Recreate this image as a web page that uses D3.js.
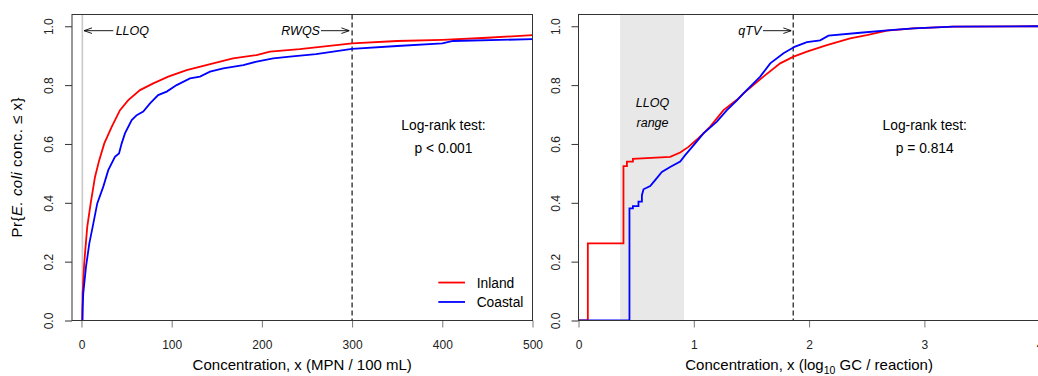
<!DOCTYPE html>
<html>
<head>
<meta charset="utf-8">
<script src="https://cdn.jsdelivr.net/npm/d3@7"></script>
<style>
  body { margin: 0; background: #fff; }
  svg { display: block; font-family: "Liberation Sans", Arial, Helvetica, sans-serif; }
</style>
</head>
<body>
<svg id="chart" width="1038" height="376"></svg>
<script>
// E. coli culture (MPN / 100 mL), ECDF points
const inlandCulture = [
  [1, 0], [1.3, 0.092], [2.8, 0.182], [3.9, 0.227], [6.4, 0.318], [10.2, 0.398],
  [15, 0.488], [19.7, 0.545], [25.3, 0.602], [33.5, 0.658], [42.7, 0.715],
  [51.9, 0.749], [64.9, 0.783], [79.6, 0.806], [96.2, 0.829], [116.6, 0.851],
  [146, 0.874], [168, 0.891], [194, 0.902], [209, 0.914], [242, 0.922],
  [300, 0.942], [350, 0.950], [400, 0.954], [450, 0.961], [500, 0.970]
];
const coastalCulture = [
  [1, 0], [1.3, 0.046], [2, 0.092], [5, 0.182], [8.7, 0.262], [12.4, 0.318],
  [17.5, 0.398], [24.2, 0.455], [29.7, 0.511], [37.1, 0.556], [41.6, 0.568],
  [44.6, 0.602], [48.2, 0.636], [55.7, 0.681], [61.2, 0.698], [68.5, 0.71],
  [76, 0.738], [85, 0.766], [94.5, 0.778], [105.5, 0.80], [120.3, 0.823],
  [131.4, 0.829], [142.5, 0.846], [157.2, 0.857], [179.4, 0.868], [194.2, 0.88],
  [212.6, 0.891], [231, 0.897], [260, 0.905], [300, 0.923], [350, 0.933],
  [400, 0.942], [412, 0.95], [500, 0.956]
];

// qPCR (log10 GC / reaction); repeated x values are the jumps
const inlandQpcr = [
  [0, 0], [0.081, 0], [0.081, 0.262], [0.39, 0.262], [0.39, 0.525], [0.42, 0.525],
  [0.42, 0.54], [0.472, 0.54], [0.472, 0.549], [0.795, 0.556], [0.882, 0.571],
  [0.954, 0.59], [1.027, 0.615], [1.142, 0.659], [1.258, 0.715], [1.374, 0.75],
  [1.431, 0.772], [1.604, 0.829], [1.749, 0.874], [1.865, 0.897], [1.981, 0.914],
  [2.154, 0.936], [2.356, 0.959], [2.501, 0.970], [2.675, 0.985], [2.906, 0.993],
  [3.25, 0.999], [4, 1.0]
];
const coastalQpcr = [
  [0, 0], [0.442, 0], [0.442, 0.381], [0.472, 0.381], [0.472, 0.389], [0.52, 0.389],
  [0.52, 0.404], [0.55, 0.404], [0.55, 0.426], [0.564, 0.446], [0.622, 0.457],
  [0.665, 0.477], [0.723, 0.505], [0.795, 0.522], [0.882, 0.54], [0.925, 0.562],
  [1.012, 0.602], [1.084, 0.636], [1.2, 0.676], [1.287, 0.715], [1.374, 0.748],
  [1.431, 0.772], [1.576, 0.829], [1.663, 0.874], [1.778, 0.908], [1.879, 0.931],
  [1.981, 0.946], [2.096, 0.952], [2.168, 0.968], [2.443, 0.978], [2.703, 0.987],
  [2.906, 0.993], [3.25, 0.999], [4, 1.0]
];

const yTicks = [0, 0.2, 0.4, 0.6, 0.8, 1.0];
const cultureTicks = [0, 100, 200, 300, 400, 500];
const qpcrTicks = [0, 1, 2, 3, 4];
const seriesNames = ["Inland", "Coastal"];
const seriesColors = ["#ff0000", "#0000ff"];

const lloqCulture = 1;       // MPN / 100 mL
const rwqs = 300;
const lloqRange = [0.361, 0.915];
const qtv = 1.862;
const pLeft = "p < 0.001";
const pRight = "p = 0.814";

const svg = d3.select("#chart");

const y = d3.scaleLinear().domain([0, 1.04]).range([320.5, 14.5]);

const defs = svg.append("defs");
defs.append("marker")
  .attr("id", "arr")
  .attr("viewBox", "0 -5 10 10")
  .attr("refX", 10).attr("refY", 0)
  .attr("markerWidth", 8).attr("markerHeight", 8)
  .attr("markerUnits", "userSpaceOnUse")
  .attr("orient", "auto")
  .append("path")
  .attr("d", "M0,-3.5L10,0L0,3.5")
  .attr("fill", "none")
  .attr("stroke", "#000")
  .attr("stroke-width", 1.1);

function drawPanel(id, x, ticks, leftAxisX) {
  const g = svg.append("g");
  const [x0, x1] = x.range();

  defs.append("clipPath").attr("id", "clip-" + id)
    .append("rect")
    .attr("x", x0).attr("y", y.range()[1])
    .attr("width", x1 - x0).attr("height", y.range()[0] - y.range()[1]);

  const plot = g.append("g").attr("clip-path", `url(#clip-${id})`);

  // y axis
  const yAxis = g.append("g")
    .attr("transform", `translate(${leftAxisX},0)`)
    .call(d3.axisLeft(y).tickValues(yTicks).tickSize(7).tickFormat(d3.format(".1f")));
  yAxis.select(".domain").remove();
  yAxis.selectAll(".tick line").attr("stroke", "#333");
  yAxis.selectAll(".tick text")
    .attr("x", 0).attr("dy", "0.35em")
    .attr("text-anchor", "middle")
    .attr("transform", "translate(-23,0) rotate(-90)")
    .attr("font-size", 12).attr("fill", "#222");

  // x axis
  const xAxis = g.append("g")
    .attr("transform", `translate(0,${y(0)})`)
    .call(d3.axisBottom(x).tickValues(ticks).tickSize(7).tickFormat(d3.format("d")));
  xAxis.select(".domain").remove();
  xAxis.selectAll(".tick line").attr("stroke", "#777");
  xAxis.selectAll(".tick text")
    .attr("y", 20)
    .attr("font-size", 12).attr("fill", "#222");

  return { g, plot, x, x0, x1 };
}

function drawBox(p) {
  p.g.append("rect")
    .attr("x", p.x0).attr("y", y.range()[1])
    .attr("width", p.x1 - p.x0).attr("height", y.range()[0] - y.range()[1])
    .attr("fill", "none")
    .attr("stroke", "#333")
    .attr("stroke-width", 1);
}

function drawCurves(p, data) {
  const line = d3.line().x(d => p.x(d[0])).y(d => y(d[1]));
  data.forEach((d, i) => {
    p.plot.append("path")
      .datum(d)
      .attr("fill", "none")
      .attr("stroke", seriesColors[i])
      .attr("stroke-width", 1.8)
      .attr("stroke-linejoin", "miter")
      .attr("d", line);
  });
}

function arrow(g, xa, xb, yv) {
  g.append("line")
    .attr("x1", xa).attr("x2", xb)
    .attr("y1", yv).attr("y2", yv)
    .attr("stroke", "#000").attr("stroke-width", 0.9)
    .attr("marker-end", "url(#arr)");
}

// ---------- left panel: culture ----------
const xL = d3.scaleLinear().domain([-10.5, 500]).range([72, 532.5]);
const L = drawPanel("left", xL, cultureTicks, 72);

L.plot.append("line")
  .attr("x1", xL(lloqCulture)).attr("x2", xL(lloqCulture))
  .attr("y1", y.range()[1]).attr("y2", y.range()[0])
  .attr("stroke", "#c8c8c8").attr("stroke-width", 1.6);

L.plot.append("line")
  .attr("x1", xL(rwqs)).attr("x2", xL(rwqs))
  .attr("y1", y.range()[1]).attr("y2", y.range()[0])
  .attr("stroke", "#000").attr("stroke-width", 1.1)
  .attr("stroke-dasharray", "5,3");

drawCurves(L, [inlandCulture, coastalCulture]);
drawBox(L);

arrow(L.g, xL(35.3), xL(2.8), y(0.985));
L.g.append("text")
  .attr("x", xL(37.9)).attr("y", y(0.985)).attr("dy", "0.36em")
  .attr("font-size", 12.5).attr("font-style", "italic")
  .text("LLOQ");

L.g.append("text")
  .attr("x", xL(264.4)).attr("y", y(0.985)).attr("dy", "0.36em")
  .attr("text-anchor", "end")
  .attr("font-size", 12.5).attr("font-style", "italic")
  .text("RWQS");
arrow(L.g, xL(265.5), xL(297), y(0.985));

L.g.append("text")
  .attr("x", xL(401.3)).attr("y", y(0.647))
  .attr("text-anchor", "middle").attr("font-size", 13.8)
  .text("Log-rank test:");
L.g.append("text")
  .attr("x", xL(401.3)).attr("y", y(0.568))
  .attr("text-anchor", "middle").attr("font-size", 13.8)
  .text(pLeft);

// legend
seriesNames.forEach((name, i) => {
  const yy = y([0.129, 0.063][i]);
  L.g.append("line")
    .attr("x1", xL(395.6)).attr("x2", xL(425.2))
    .attr("y1", yy).attr("y2", yy)
    .attr("stroke", seriesColors[i]).attr("stroke-width", 1.8);
  L.g.append("text")
    .attr("x", xL(438.1)).attr("y", yy).attr("dy", "0.36em")
    .attr("font-size", 13.8)
    .text(name);
});

L.g.append("text")
  .attr("x", (xL.range()[0] + xL.range()[1]) / 2).attr("y", 370)
  .attr("text-anchor", "middle").attr("font-size", 15)
  .text("Concentration, x (MPN / 100 mL)");

const yTitle = svg.append("text")
  .attr("transform", `translate(22,${(y.range()[0] + y.range()[1]) / 2}) rotate(-90)`)
  .attr("text-anchor", "middle").attr("font-size", 15)
  .attr("textLength", 140).attr("lengthAdjust", "spacing");
yTitle.append("tspan").text("Pr{");
yTitle.append("tspan").attr("font-style", "italic").text("E. coli");
yTitle.append("tspan").text(" conc. \u2264 x}");

// ---------- right panel: qPCR ----------
const xR = d3.scaleLinear().domain([0, 4]).range([578.5, 1039.7]);
const R = drawPanel("right", xR, qpcrTicks, 578.5);

R.plot.append("rect")
  .attr("x", xR(lloqRange[0])).attr("y", y.range()[1])
  .attr("width", xR(lloqRange[1]) - xR(lloqRange[0]))
  .attr("height", y.range()[0] - y.range()[1])
  .attr("fill", "#e8e8e8");

R.plot.append("line")
  .attr("x1", xR(qtv)).attr("x2", xR(qtv))
  .attr("y1", y.range()[1]).attr("y2", y.range()[0])
  .attr("stroke", "#000").attr("stroke-width", 1.1)
  .attr("stroke-dasharray", "5,3");

drawCurves(R, [inlandQpcr, coastalQpcr]);
drawBox(R);

R.g.append("text")
  .attr("x", xR(0.642)).attr("y", y(0.726))
  .attr("text-anchor", "middle").attr("font-size", 12.5).attr("font-style", "italic")
  .text("LLOQ");
R.g.append("text")
  .attr("x", xR(0.642)).attr("y", y(0.656))
  .attr("text-anchor", "middle").attr("font-size", 12.5).attr("font-style", "italic")
  .text("range");

R.g.append("text")
  .attr("x", xR(1.585)).attr("y", y(0.985)).attr("dy", "0.36em")
  .attr("text-anchor", "end")
  .attr("font-size", 12.5).attr("font-style", "italic")
  .text("qTV");
arrow(R.g, xR(1.6), xR(1.846), y(0.985));

R.g.append("text")
  .attr("x", xR(3.003)).attr("y", y(0.647))
  .attr("text-anchor", "middle").attr("font-size", 13.8)
  .text("Log-rank test:");
R.g.append("text")
  .attr("x", xR(3.003)).attr("y", y(0.568))
  .attr("text-anchor", "middle").attr("font-size", 13.8)
  .text(pRight);

const xTitleR = R.g.append("text")
  .attr("x", (xR.range()[0] + xR.range()[1]) / 2).attr("y", 370)
  .attr("text-anchor", "middle").attr("font-size", 15);
xTitleR.append("tspan").text("Concentration, x (log");
xTitleR.append("tspan").attr("font-size", 10.5).attr("dy", 4).text("10");
xTitleR.append("tspan").attr("dy", -4).text(" GC / reaction)");
</script>
</body>
</html>
